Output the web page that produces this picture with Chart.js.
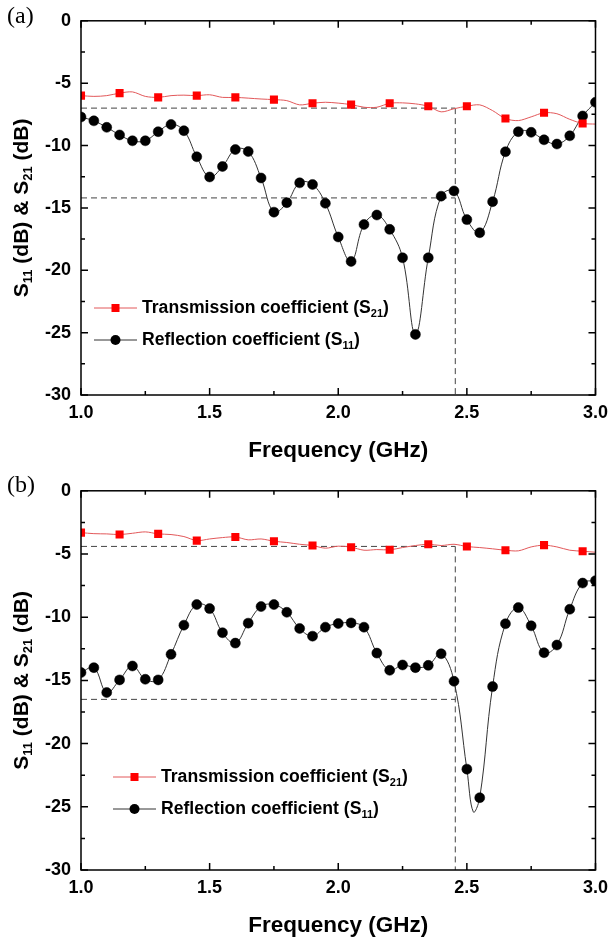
<!DOCTYPE html>
<html>
<head>
<meta charset="utf-8">
<script src="https://cdn.jsdelivr.net/npm/chart.js@4.4.1/dist/chart.umd.min.js"></script>
<style>
  body { margin: 0; background: #fff; width: 615px; height: 941px; position: relative; overflow: hidden; }
  canvas { position: absolute; left: 0; }
</style>
</head>
<body>
<canvas id="chartA" width="615" height="470" style="top:0px"></canvas>
<canvas id="chartB" width="615" height="471" style="top:470px"></canvas>
<script>
// frequency grid (GHz), one sample every 0.05
const FREQ = [1.00, 1.05, 1.10, 1.15, 1.20, 1.25, 1.30, 1.35, 1.40, 1.45,
              1.50, 1.55, 1.60, 1.65, 1.70, 1.75, 1.80, 1.85, 1.90, 1.95,
              2.00, 2.05, 2.10, 2.15, 2.20, 2.25, 2.30, 2.35, 2.40, 2.45,
              2.50, 2.55, 2.60, 2.65, 2.70, 2.75, 2.80, 2.85, 2.90, 2.95, 3.00];

// (a)
const S21_A = [-6.00, -6.06, -6.00, -5.80, -5.70, -6.06, -6.14, -6.00, -5.96, -6.00,
               -5.93, -6.14, -6.14, -6.20, -6.27, -6.32, -6.40, -6.74, -6.61, -6.53,
               -6.60, -6.72, -6.93, -6.93, -6.61, -6.58, -6.66, -6.85, -7.30, -7.05,
               -6.85, -6.74, -7.20, -7.84, -8.00, -7.70, -7.37, -7.45, -7.90, -8.23, -8.28];
const S11_A = [-7.71, -8.02, -8.54, -9.15, -9.62, -9.62, -8.89, -8.31, -8.81, -10.90,
               -12.52, -11.68, -10.32, -10.48, -12.60, -15.34, -14.58, -12.99, -13.12, -14.63,
               -17.33, -19.29, -16.33, -15.57, -16.72, -19.00, -25.14, -19.00, -14.06, -13.64,
               -15.94, -16.99, -14.50, -10.50, -8.89, -8.94, -9.54, -9.88, -9.22, -7.63, -6.53];

// (b)
const S21_B = [-3.31, -3.39, -3.41, -3.46, -3.36, -3.25, -3.41, -3.46, -3.62, -3.94,
               -3.81, -3.70, -3.65, -3.88, -3.81, -3.99, -4.09, -4.23, -4.33, -4.54,
               -4.38, -4.46, -4.70, -4.65, -4.67, -4.49, -4.33, -4.23, -4.33, -4.23,
               -4.41, -4.49, -4.59, -4.70, -4.75, -4.44, -4.30, -4.44, -4.70, -4.78, -4.86];
const S11_B = [-14.38, -13.99, -15.96, -14.96, -13.86, -14.91, -14.96, -12.94, -10.63, -9.00,
               -9.32, -11.23, -12.05, -10.47, -9.16, -9.00, -9.61, -10.89, -11.50, -10.79,
               -10.50, -10.45, -10.79, -12.84, -14.20, -13.78, -13.99, -13.81, -12.89, -15.07,
               -22.02, -24.28, -15.49, -10.52, -9.24, -10.68, -12.81, -12.20, -9.37, -7.30, -7.11];
// bottom of the (b) resonance, on the curve between two markers
const S11_B_DIP_FREQ = [2.525];
const S11_B_DIP_DB = [-25.4];

// dashed guide lines: [freq, S21 level, S11 level]
const GUIDE_A = [2.455, -7.0, -14.2];
const GUIDE_B = [2.455, -4.4, -16.5];

const X_TICKS = [1.0, 1.5, 2.0, 2.5, 3.0];
const Y_TICKS = [0, -5, -10, -15, -20, -25, -30];

const FONT = "'Liberation Sans', Arial, sans-serif";
const RED_LINE = '#e2585a';
const RED_MARK = '#ff0000';

function drawRich(ctx, parts, x, y, size, subSize, align) {
  let w = 0;
  parts.forEach(p => {
    ctx.font = 'bold ' + (p[1] ? subSize : size) + 'px ' + FONT;
    w += ctx.measureText(p[0]).width;
  });
  let cx = align === 'center' ? x - w / 2 : x;
  ctx.textBaseline = 'middle';
  ctx.textAlign = 'left';
  parts.forEach(p => {
    ctx.font = 'bold ' + (p[1] ? subSize : size) + 'px ' + FONT;
    ctx.fillText(p[0], cx, p[1] ? y + size * 0.32 : y);
    cx += ctx.measureText(p[0]).width;
  });
}

const framePlugin = {
  id: 'frame',
  beforeDatasetsDraw(chart) {
    const ctx = chart.ctx;
    const xs = chart.scales.x, ys = chart.scales.y;
    const g = chart.options.plugins.frame.guide;
    const x0 = xs.getPixelForValue(1.0);
    const xg = xs.getPixelForValue(g[0]);
    const yTop = ys.getPixelForValue(g[1]);
    const yLow = ys.getPixelForValue(g[2]);
    ctx.save();
    ctx.strokeStyle = '#444';
    ctx.lineWidth = 1;
    ctx.setLineDash([6, 4]);
    ctx.beginPath();
    ctx.moveTo(x0, yTop); ctx.lineTo(xg, yTop);
    ctx.moveTo(x0, yLow); ctx.lineTo(xg, yLow);
    ctx.moveTo(xg, yTop); ctx.lineTo(xg, ys.getPixelForValue(-30));
    ctx.stroke();
    ctx.restore();
  },
  afterDraw(chart) {
    const ctx = chart.ctx;
    const o = chart.options.plugins.frame;
    const { left, right, top, bottom } = chart.chartArea;
    const xs = chart.scales.x, ys = chart.scales.y;
    ctx.save();
    ctx.strokeStyle = '#000';
    ctx.lineWidth = 1.5;
    ctx.strokeRect(left, top, right - left, bottom - top);
    // inward ticks on all four sides
    ctx.beginPath();
    for (let k = 0; k <= 8; k++) {
      const px = xs.getPixelForValue(1 + k * 0.25);
      const len = k % 2 === 0 ? 7 : 4;
      ctx.moveTo(px, bottom); ctx.lineTo(px, bottom - len);
      ctx.moveTo(px, top); ctx.lineTo(px, top + len);
    }
    for (let k = 0; k <= 12; k++) {
      const py = ys.getPixelForValue(-k * 2.5);
      const len = k % 2 === 0 ? 7 : 4;
      ctx.moveTo(left, py); ctx.lineTo(left + len, py);
      ctx.moveTo(right, py); ctx.lineTo(right - len, py);
    }
    ctx.stroke();

    // panel label
    ctx.fillStyle = '#000';
    ctx.font = "24px 'Liberation Serif', 'Times New Roman', serif";
    ctx.textAlign = 'left';
    ctx.textBaseline = 'middle';
    ctx.fillText(o.label, 7, o.labelY);

    // x axis title
    drawRich(ctx, [['Frequency (GHz)', false]], (left + right) / 2, bottom + 56, 22.5, 14, 'center');

    // y axis title
    ctx.save();
    ctx.translate(22, (top + bottom) / 2);
    ctx.rotate(-Math.PI / 2);
    drawRich(ctx, [['S', false], ['11', true], [' (dB) & S', false], ['21', true], [' (dB)', false]],
             0, 0, 21, 13, 'center');
    ctx.restore();

    // legend
    const L = o.legend;
    ctx.lineWidth = 1;
    ctx.strokeStyle = RED_LINE;
    ctx.beginPath(); ctx.moveTo(L.x, L.y); ctx.lineTo(L.x + 43, L.y); ctx.stroke();
    ctx.fillStyle = RED_MARK;
    ctx.fillRect(L.x + 21.5 - 4, L.y - 4, 8, 8);
    ctx.strokeStyle = '#333';
    ctx.beginPath(); ctx.moveTo(L.x, L.y + 32); ctx.lineTo(L.x + 43, L.y + 32); ctx.stroke();
    ctx.fillStyle = '#000';
    ctx.beginPath(); ctx.arc(L.x + 21.5, L.y + 32, 5, 0, Math.PI * 2); ctx.fill();
    drawRich(ctx, [['Transmission coefficient (S', false], ['21', true], [')', false]], L.x + 48, L.y, 17.6, 11, 'left');
    drawRich(ctx, [['Reflection coefficient (S', false], ['11', true], [')', false]], L.x + 48, L.y + 32, 17.6, 11, 'left');
    ctx.restore();
  }
};

function onGrid(f) {
  return Math.abs(f * 20 - Math.round(f * 20)) < 1e-6;
}

function makeChart(id, s21, s11, dipF, dipV, guide, padTop, xHeight, label, labelY, legend) {
  const s11pts = FREQ.map((f, i) => ({ x: f, y: s11[i] }));
  dipF.forEach((f, i) => s11pts.push({ x: f, y: dipV[i] }));
  s11pts.sort((a, b) => a.x - b.x);
  return new Chart(document.getElementById(id), {
    type: 'line',
    data: {
      datasets: [
        {
          label: 'S21',
          data: FREQ.map((f, i) => ({ x: f, y: s21[i] })),
          borderColor: RED_LINE,
          borderWidth: 1,
          tension: 0.3,
          pointStyle: 'rect',
          pointRadius: c => (c.dataIndex % 3 === 0 && c.dataIndex < 40 ? 5.7 : 0),
          pointBackgroundColor: RED_MARK,
          pointBorderWidth: 0
        },
        {
          label: 'S11',
          data: s11pts,
          borderColor: '#333',
          borderWidth: 1,
          tension: 0.4,
          pointStyle: 'circle',
          pointRadius: c => (onGrid(c.raw.x) ? 5 : 0),
          pointBackgroundColor: '#000',
          pointBorderColor: '#000',
          pointBorderWidth: 0.5
        }
      ]
    },
    options: {
      responsive: false,
      animation: false,
      layout: { padding: { top: padTop, right: 16, left: 0, bottom: 0 } },
      scales: {
        x: {
          type: 'linear', min: 1, max: 3,
          afterBuildTicks: s => { s.ticks = X_TICKS.map(v => ({ value: v })); },
          ticks: { color: '#000', padding: 7, font: { family: FONT, size: 18, weight: 'bold' },
                   callback: v => v.toFixed(1), maxRotation: 0, autoSkip: false },
          grid: { display: false, drawTicks: false },
          border: { display: false },
          afterFit: s => { s.height = xHeight; }
        },
        y: {
          type: 'linear', min: -30, max: 0,
          afterBuildTicks: s => { s.ticks = Y_TICKS.map(v => ({ value: v })); },
          ticks: { color: '#000', padding: 10, font: { family: FONT, size: 18, weight: 'bold' } },
          grid: { display: false, drawTicks: false },
          border: { display: false },
          afterFit: s => { s.width = 81; }
        }
      },
      plugins: {
        legend: { display: false },
        tooltip: { enabled: false },
        frame: { guide: guide, label: label, labelY: labelY, legend: legend }
      }
    },
    plugins: [framePlugin]
  });
}

makeChart('chartA', S21_A, S11_A, [], [], GUIDE_A, 13, 75, '(a)', 17, { x: 94, y: 308 });
makeChart('chartB', S21_B, S11_B, S11_B_DIP_FREQ, S11_B_DIP_DB, GUIDE_B, 19, 71, '(b)', 16, { x: 113, y: 307 });
</script>
</body>
</html>
